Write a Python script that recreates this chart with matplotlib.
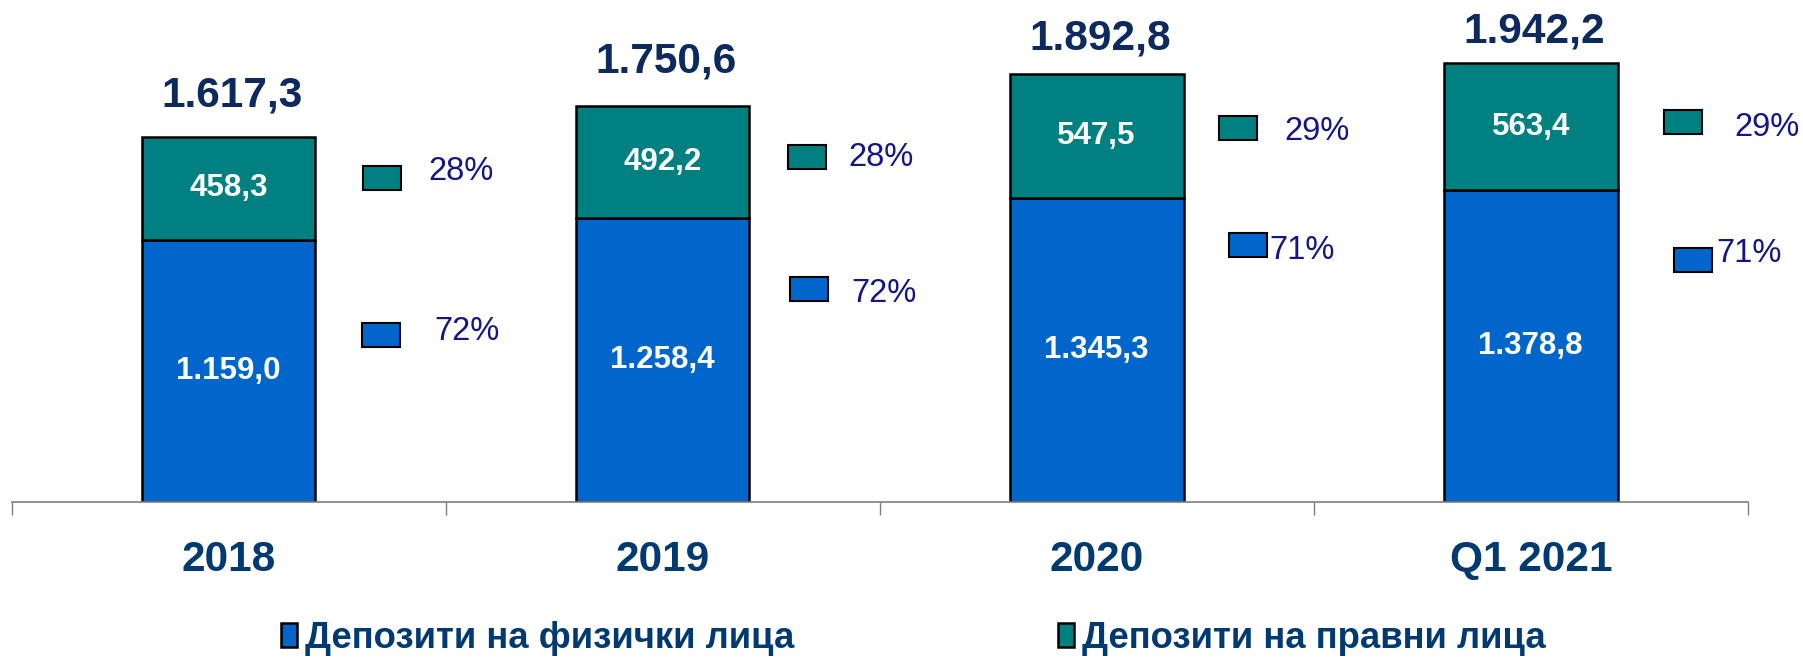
"""
Deposits structure chart - stacked bars with share markers
"""

import numpy as np
import matplotlib.pyplot as plt
from matplotlib.patches import Patch

# data
categories = ['2018', '2019', '2020', 'Q1 2021']
individuals = [1159.0, 1258.4, 1345.3, 1378.8]
legal_entities = [458.3, 492.2, 547.5, 563.4]
series_names = ['Депозити на физички лица', 'Депозити на правни лица']

# layout of the share markers (x offset from bar centre, y in data units)
teal_mark_dx = [0.353, 0.333, 0.326, 0.350]
teal_mark_y = [1435, 1527, 1654, 1682]
blue_mark_dx = [0.351, 0.338, 0.348, 0.373]
blue_mark_y = [738, 944, 1137, 1071]
teal_text_dx = [0.461, 0.428, 0.432, 0.468]
teal_text_y = [1461, 1527, 1639, 1659]
blue_text_dx = [0.474, 0.434, 0.398, 0.428]
blue_text_y = [753, 921, 1115, 1099]
# gap (points) between bar top and the total label baseline
total_gap = [21.6, 24.5, 18.0, 15.1]

BLUE = '#0066CC'
TEAL = '#008080'
NAVY = '#0d2a5e'
CAT_COLOR = '#003a70'
PCT_COLOR = '#15158a'

plt.rcParams['font.family'] = ['Liberation Sans', 'DejaVu Sans']


def fmt(v):
    s = f'{v:,.1f}'
    return s.replace(',', ' ').replace('.', ',').replace(' ', '.')


ind = np.array(individuals)
leg = np.array(legal_entities)
total = ind + leg
x = np.arange(len(categories))

fig = plt.figure(figsize=(18.03, 6.58), dpi=100)
ax = fig.add_axes([0.0064, 0.237, 0.963, 0.7555])

ax.bar(x, ind, width=0.4, color=BLUE, edgecolor='black', linewidth=1.8)
ax.bar(x, leg, bottom=ind, width=0.4, color=TEAL, edgecolor='black', linewidth=1.8)

for i in range(len(x)):
    ax.text(x[i], ind[i] / 2, fmt(ind[i]), ha='center', va='center',
            color='white', fontsize=22.5, fontweight='bold')
    ax.text(x[i], ind[i] + leg[i] / 2, fmt(leg[i]), ha='center', va='center',
            color='white', fontsize=22.5, fontweight='bold')
    ax.annotate(fmt(total[i]), (x[i] + 0.008, total[i]), xytext=(0, total_gap[i]),
                textcoords='offset points', ha='center', va='baseline',
                color=NAVY, fontsize=30.5, fontweight='bold')

    # share markers
    mh = 107
    ax.bar(x[i] + teal_mark_dx[i], mh, bottom=teal_mark_y[i] - mh / 2, width=0.087,
           color=TEAL, edgecolor='black', linewidth=1.5)
    ax.bar(x[i] + blue_mark_dx[i], mh, bottom=blue_mark_y[i] - mh / 2, width=0.087,
           color=BLUE, edgecolor='black', linewidth=1.5)
    ax.text(x[i] + teal_text_dx[i], teal_text_y[i], f'{round(leg[i] / total[i] * 100):.0f}%',
            ha='left', va='center', color=PCT_COLOR, fontsize=23.5)
    ax.text(x[i] + blue_text_dx[i], blue_text_y[i], f'{round(ind[i] / total[i] * 100):.0f}%',
            ha='left', va='center', color=PCT_COLOR, fontsize=23.5)

ax.set_xlim(-0.5, len(x) - 0.5)
ax.set_ylim(0, 2200)
ax.set_yticks([])
for s in ['top', 'left', 'right']:
    ax.spines[s].set_visible(False)
ax.spines['bottom'].set_color('#7f7f7f')
ax.spines['bottom'].set_linewidth(1.2)

ax.set_xticks(x)
ax.set_xticklabels(categories, fontsize=30.5, fontweight='bold', color=CAT_COLOR)
ax.tick_params(axis='x', which='major', length=0, pad=27)
ax.set_xticks(np.arange(-0.5, len(x)), minor=True)
ax.tick_params(axis='x', which='minor', length=9, width=1.0, color='#7f7f7f', direction='out')

handles = [Patch(facecolor=BLUE, edgecolor='black', linewidth=1.8),
           Patch(facecolor=TEAL, edgecolor='black', linewidth=1.8)]
fig.legend(handles, series_names, loc='center', bbox_to_anchor=(0.5065, 0.03),
           ncol=2, frameon=False, handlelength=0.45, handleheight=0.62,
           handletextpad=0.22, columnspacing=7.2,
           prop={'family': ['Liberation Sans Narrow', 'Liberation Sans'],
                 'weight': 'bold', 'size': 26.3})
for t in fig.legends[0].get_texts():
    t.set_color(CAT_COLOR)

fig.savefig('out.png', dpi=100)
